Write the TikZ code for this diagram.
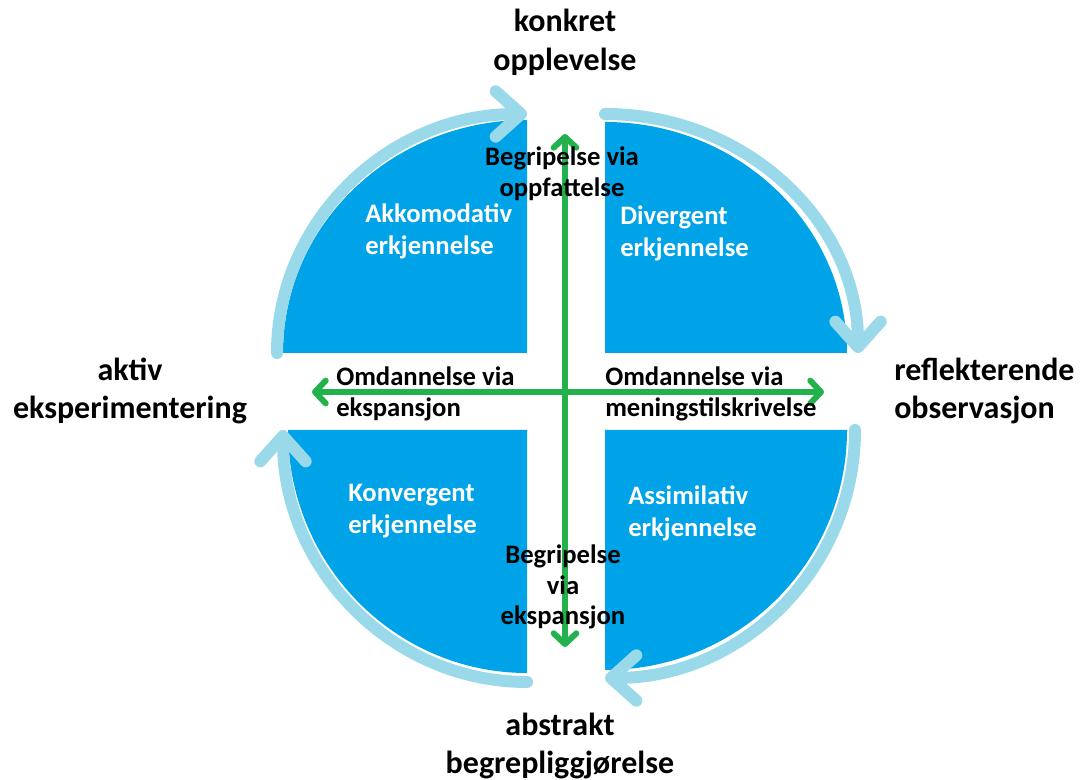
\documentclass[tikz,border=0pt]{standalone}
\usepackage{fontspec}
\setmainfont{Carlito}
\usetikzlibrary{arrows.meta}
\definecolor{quadblue}{HTML}{00A2E8}
\definecolor{ringblue}{HTML}{99D9EA}
\definecolor{axisgreen}{HTML}{22B14C}
\begin{document}
\begin{tikzpicture}[x=0.75pt,y=0.75pt,
  quadfill/.style={fill=quadblue,draw=none},
  ringarc/.style={draw=ringblue,line width=9pt,line cap=round,
    -{Straight Barb[length=19pt,width=34pt,round]}},
  axisarrow/.style={draw=axisgreen,line width=4.5pt,
    {Straight Barb[length=8pt,width=17pt,round]}-{Straight Barb[length=8pt,width=17pt,round]}},
  pole/.style={font=\bfseries\fontsize{24}{29}\selectfont,align=center,inner sep=0pt},
  qlabel/.style={font=\bfseries\fontsize{20}{24}\selectfont,text=white,align=left,anchor=west,inner sep=0pt},
  mlabel/.style={font=\bfseries\fontsize{20}{23}\selectfont,text=black,inner sep=0pt},
]
\useasboundingbox (0,0) rectangle (1085,780);

% corners of the four quadrants
\coordinate (tl) at (527,427);
\coordinate (tr) at (605,427);
\coordinate (bl) at (527,350);
\coordinate (br) at (605,350);

% quadrant fills
\fill[quadfill] (tl) -- ++(-244,0) arc[start angle=180,end angle=90,x radius=244,y radius=233] -- cycle;
\fill[quadfill] (tr) -- ++(0,231) arc[start angle=90,end angle=0,x radius=242,y radius=231] -- cycle;
\fill[quadfill] (bl) -- ++(0,-243) arc[start angle=270,end angle=180,x radius=239,y radius=243] -- cycle;
\fill[quadfill] (br) -- ++(242,0) arc[start angle=0,end angle=-90,x radius=242,y radius=240] -- cycle;

% outer cycle arrows
\draw[ringarc] (tl) ++(-250,0) arc[start angle=180,end angle=90,x radius=250,y radius=239];
\draw[ringarc] (tr) ++(0,239) arc[start angle=90,end angle=0,x radius=253,y radius=239];
\draw[ringarc] (br) ++(250,0) arc[start angle=0,end angle=-90,x radius=250,y radius=248];
\draw[ringarc] (bl) ++(0,-252) arc[start angle=270,end angle=180,x radius=244,y radius=252];

% axes
\coordinate (vtop) at (565,646);
\coordinate (vbot) at (565,133);
\coordinate (hleft) at (312,388);
\coordinate (hright) at (824,388);
\draw[axisarrow] (vtop) -- (vbot);
\draw[axisarrow] (hleft) -- (hright);

% poles
\node[pole] (konkret) at (565,738) {konkret\\opplevelse};
\node[pole] (aktiv) at (130,389) {aktiv\\eksperimentering};
\node[pole,align=left,anchor=west] (refl) at (894,389) {reflekterende\\observasjon};
\node[pole] (abstr) at (560,34) {abstrakt\\begrepliggjørelse};

% quadrant labels
\node[qlabel] (akk) at (365,549) {Akkomodativ\\erkjennelse};
\node[qlabel] (div) at (620,547) {Divergent\\erkjennelse};
\node[qlabel] (konv) at (348,269) {Konvergent\\erkjennelse};
\node[qlabel] (assim) at (628,267) {Assimilativ\\erkjennelse};

% axis labels
\node[mlabel,align=center] (oppf) at (562,606) {Begripelse via\\oppfattelse};
\node[mlabel,align=center] (eksp) at (563,193) {Begripelse\\via\\ekspansjon};
\node[mlabel,align=left,anchor=west] (omd1) at (336,386) {Omdannelse via\\ekspansjon};
\node[mlabel,align=left,anchor=west] (omd2) at (605,386) {Omdannelse via\\meningstilskrivelse};
\end{tikzpicture}
\end{document}
